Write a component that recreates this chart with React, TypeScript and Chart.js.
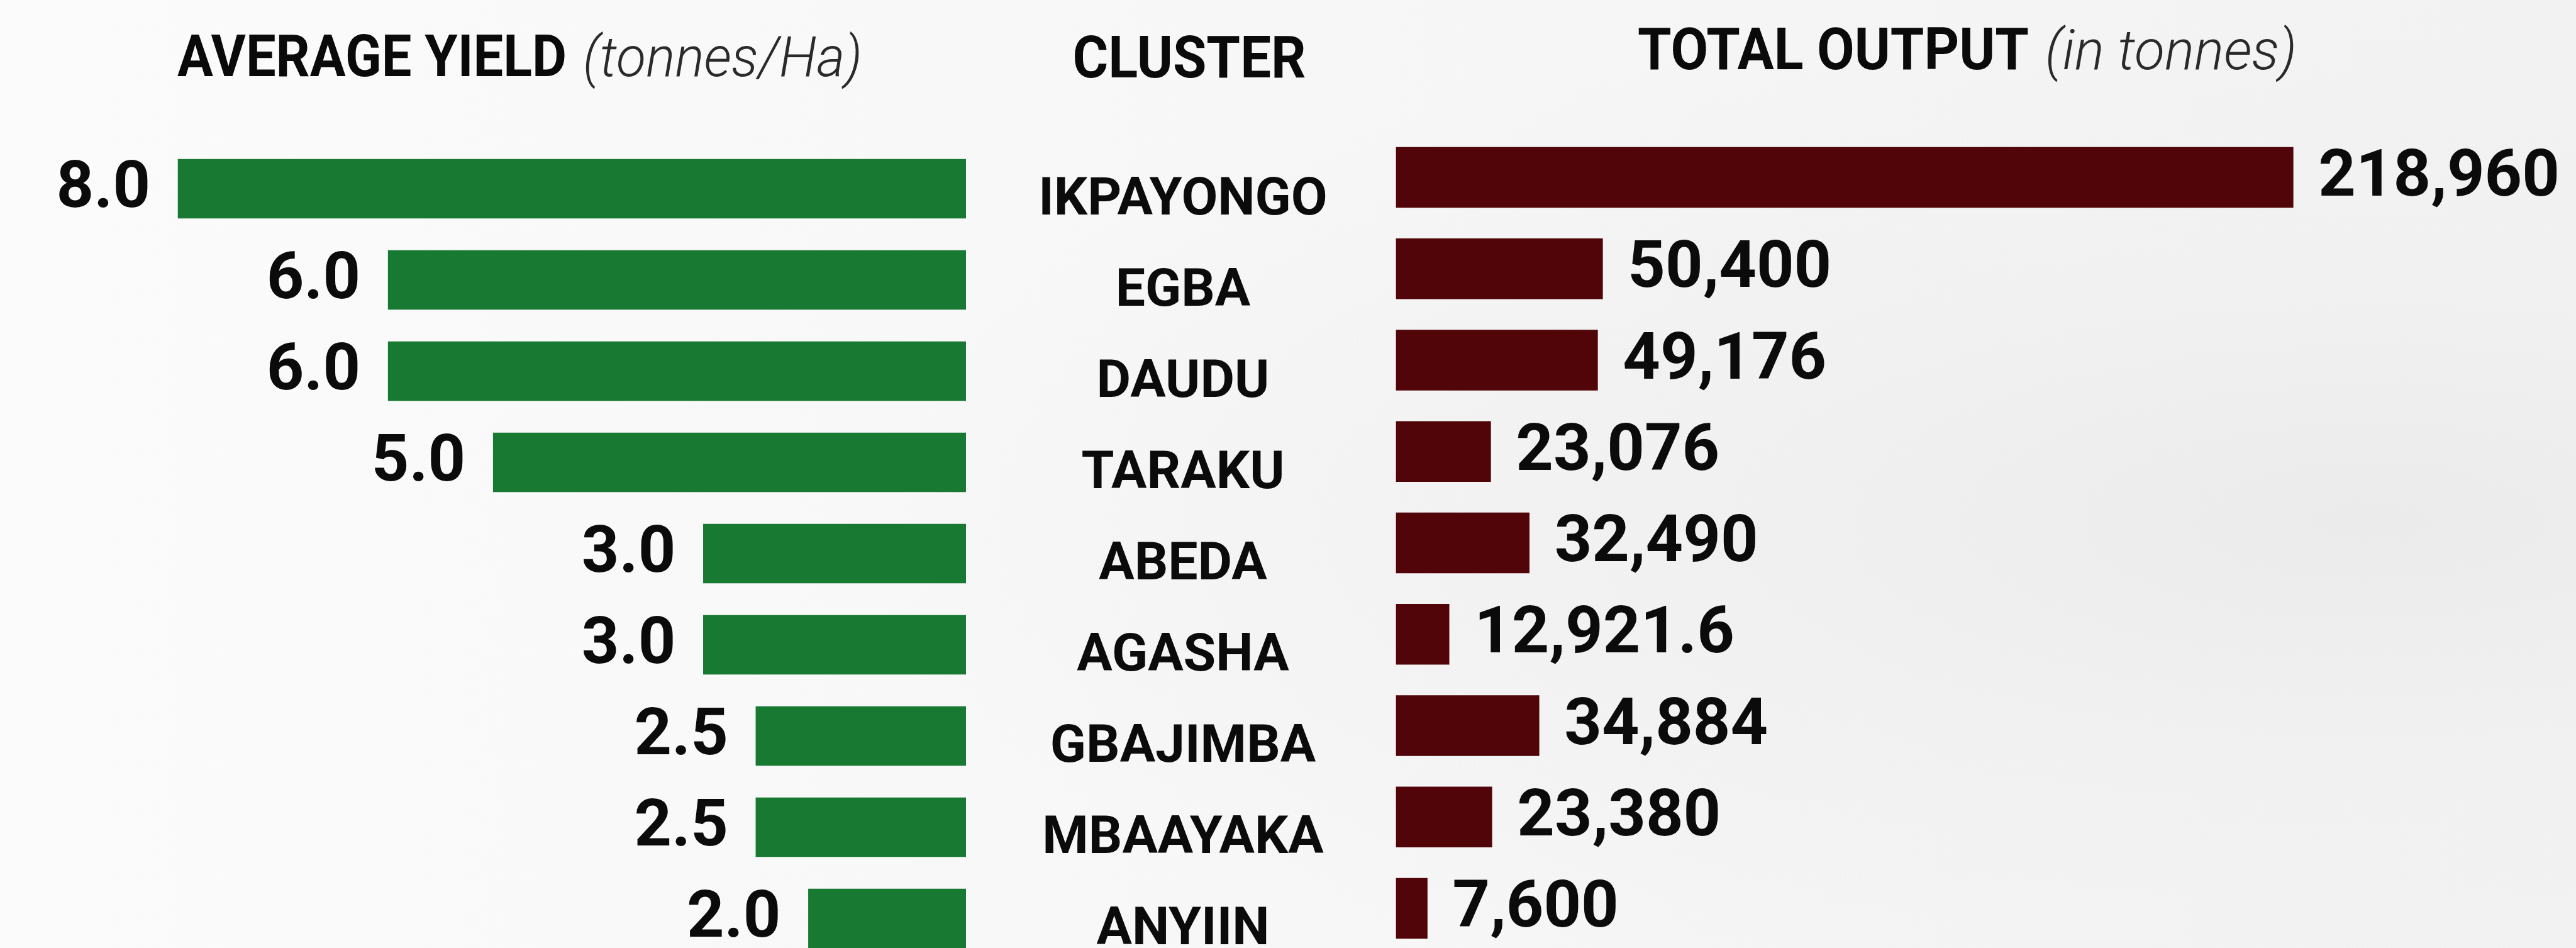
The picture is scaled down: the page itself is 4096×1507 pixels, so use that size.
import React, { useEffect, useRef } from 'react';
import { Chart, registerables } from 'chart.js';

Chart.register(...registerables);

// ---- data ----
const clusters = ['IKPAYONGO', 'EGBA', 'DAUDU', 'TARAKU', 'ABEDA', 'AGASHA', 'GBAJIMBA', 'MBAAYAKA', 'ANYIIN'];
const averageYield = [8.0, 6.0, 6.0, 5.0, 3.0, 3.0, 2.5, 2.5, 2.0];
const totalOutput = [218960, 50400, 49176, 23076, 32490, 12921.6, 34884, 23380, 7600];
const yieldLabels = averageYield.map((v) => v.toFixed(1));
const outputLabels = totalOutput.map((v) => v.toLocaleString('en-US', { maximumFractionDigits: 1 }));

const W = 4096;
const H = 1507;
const GREEN = '#187a32';
const MAROON = '#510508';
const BOLD_HEAD = 'bold 92px Roboto, sans-serif';
const ITAL_HEAD = 'italic 300 88px Roboto, sans-serif';

function drawFitted(ctx: any, text: string, font: string, x: number, y: number, width: number, align: 'left' | 'center') {
  ctx.save();
  ctx.font = font;
  ctx.textAlign = 'left';
  const w = ctx.measureText(text).width;
  const sx = width / w;
  const x0 = align === 'center' ? x - width / 2 : x;
  ctx.translate(x0, y);
  ctx.scale(sx, 1);
  ctx.fillText(text, 0, 0);
  ctx.restore();
}

function valueLabels(labels: string[], side: 'left' | 'right', gap: number) {
  return {
    id: 'valueLabels_' + side,
    afterDatasetsDraw(chart: any) {
      const ctx = chart.ctx;
      const meta = chart.getDatasetMeta(0);
      ctx.save();
      ctx.font = 'bold 104px Roboto, sans-serif';
      ctx.fillStyle = '#0b0b0b';
      ctx.textBaseline = 'middle';
      ctx.textAlign = side === 'left' ? 'right' : 'left';
      meta.data.forEach((bar: any, i: number) => {
        const x = side === 'left' ? bar.x - gap : bar.x + gap;
        ctx.fillText(labels[i], x, bar.y + 3);
      });
      ctx.restore();
    },
  };
}

// cluster names, placed on the category positions of the left chart's y scale
const clusterNames = {
  id: 'clusterNames',
  afterDatasetsDraw(chart: any) {
    const ctx = chart.ctx;
    const y = chart.scales.y;
    ctx.save();
    ctx.font = 'bold 84px Roboto, sans-serif';
    ctx.fillStyle = '#0b0b0b';
    ctx.textAlign = 'center';
    ctx.textBaseline = 'middle';
    clusters.forEach((c, i) => {
      ctx.fillText(c, 1881, y.getPixelForValue(i) + 20);
    });
    ctx.restore();
  },
};

const headers = {
  id: 'headers',
  afterDraw(chart: any) {
    const ctx = chart.ctx;
    ctx.save();
    ctx.textBaseline = 'alphabetic';
    ctx.fillStyle = '#0a0a0a';
    drawFitted(ctx, 'AVERAGE YIELD', BOLD_HEAD, 282, 121, 619, 'left');
    drawFitted(ctx, 'CLUSTER', BOLD_HEAD, 1891, 123, 371, 'center');
    drawFitted(ctx, 'TOTAL OUTPUT', BOLD_HEAD, 2604, 110, 622, 'left');
    ctx.fillStyle = '#2a2a2a';
    drawFitted(ctx, '(tonnes/Ha)', ITAL_HEAD, 927, 121, 444, 'left');
    drawFitted(ctx, '(in tonnes)', ITAL_HEAD, 3252, 110, 400, 'left');
    ctx.restore();
  },
};

export default function App() {
  const leftRef = useRef<HTMLCanvasElement>(null);
  const rightRef = useRef<HTMLCanvasElement>(null);

  useEffect(() => {
    document.body.style.margin = '0';
    document.body.style.overflow = 'hidden';

    const barsEnd = 1536;
    const barsStart = 2220;

    const left = new Chart(leftRef.current!, {
      type: 'bar',
      data: {
        labels: clusters,
        datasets: [
          {
            data: averageYield,
            backgroundColor: GREEN,
            barThickness: 94,
            // axis starts at 0.5: cut bars at the axis start, let them overflow vertically
            clip: { left: false, top: false, right: 0, bottom: false } as any,
          },
        ],
      },
      options: {
        indexAxis: 'y',
        animation: false,
        responsive: false,
        devicePixelRatio: 1,
        layout: { padding: { left: 116, right: W - barsEnd, top: 300, bottom: 47 } },
        plugins: { legend: { display: false }, tooltip: { enabled: false } },
        scales: {
          x: { type: 'linear', reverse: true, min: 0.5, max: 9, display: false },
          y: { type: 'category', offset: false, display: false },
        },
      } as any,
      plugins: [valueLabels(yieldLabels, 'left', 44), clusterNames],
    });

    const right = new Chart(rightRef.current!, {
      type: 'bar',
      data: {
        labels: clusters,
        datasets: [
          {
            data: totalOutput,
            backgroundColor: MAROON,
            barThickness: 96,
            clip: false as any,
          },
        ],
      },
      options: {
        indexAxis: 'y',
        animation: false,
        responsive: false,
        devicePixelRatio: 1,
        layout: { padding: { left: barsStart, right: 0, top: 282, bottom: H - 1444 } },
        plugins: { legend: { display: false }, tooltip: { enabled: false } },
        scales: {
          x: { type: 'linear', min: 0, max: 288000, display: false },
          y: { type: 'category', offset: false, display: false },
        },
      } as any,
      plugins: [valueLabels(outputLabels, 'right', 40), headers],
    });

    return () => {
      left.destroy();
      right.destroy();
    };
  }, []);

  return (
    <div
      style={{
        position: 'relative',
        width: W,
        height: H,
        overflow: 'hidden',
        background:
          'radial-gradient(ellipse 60% 55% at 92% 55%, #ebebeb 0%, #f1f1f1 45%, rgba(250,250,250,0) 100%), linear-gradient(90deg, #fbfbfb 0%, #f7f7f7 50%, #f2f2f2 100%)',
      }}
    >
      <canvas ref={leftRef} width={W} height={H} style={{ position: 'absolute', left: 0, top: 0 }} />
      <canvas ref={rightRef} width={W} height={H} style={{ position: 'absolute', left: 0, top: 0 }} />
    </div>
  );
}
